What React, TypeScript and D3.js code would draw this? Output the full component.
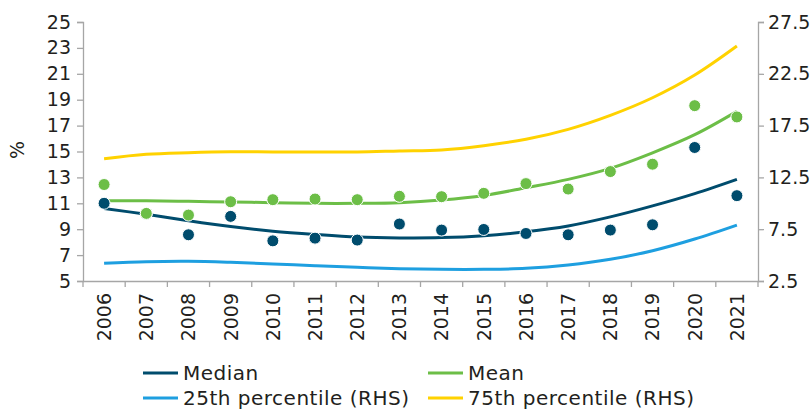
import React, { useEffect, useRef } from "react";
import * as d3 from "d3";

const years = [
  "2006", "2007", "2008", "2009", "2010", "2011", "2012", "2013",
  "2014", "2015", "2016", "2017", "2018", "2019", "2020", "2021",
];

// dots (LHS)
const medianPoints = [11.0, 10.2, 8.57, 9.99, 8.1, 8.31, 8.16, 9.4, 8.93, 8.98, 8.67, 8.57, 8.93, 9.34, 15.31, 11.59];
const meanPoints = [12.45, 10.22, 10.09, 11.12, 11.28, 11.33, 11.28, 11.54, 11.51, 11.77, 12.52, 12.1, 13.45, 14.02, 18.54, 17.67];

// trend lines (LHS)
const medianTrend = [10.6, 10.15, 9.65, 9.2, 8.85, 8.6, 8.4, 8.33, 8.35, 8.5, 8.8, 9.25, 9.95, 10.8, 11.75, 12.85];
const meanTrend = [11.2, 11.2, 11.15, 11.1, 11.05, 11.0, 11.0, 11.05, 11.25, 11.6, 12.2, 12.85, 13.7, 14.9, 16.3, 18.1];

// percentile lines (RHS)
const p25 = [4.21, 4.36, 4.4, 4.3, 4.14, 3.98, 3.82, 3.69, 3.63, 3.63, 3.72, 4.04, 4.59, 5.42, 6.55, 7.9];
const p75 = [14.3, 14.73, 14.89, 14.98, 14.96, 14.95, 14.95, 15.05, 15.15, 15.56, 16.18, 17.14, 18.49, 20.19, 22.38, 25.18];

const leftTicks = [5, 7, 9, 11, 13, 15, 17, 19, 21, 23, 25];
const rightTicks = [2.5, 7.5, 12.5, 17.5, 22.5, 27.5];

const NAVY = "#004c6d";
const GREEN = "#6cbe47";
const BLUE = "#1e9fe0";
const YELLOW = "#ffd200";
const AXIS = "#a6a6a6";
const TEXT = "#231f20";
const FONT = "DejaVu Sans";

const W = 811,
  H = 409;
const plot = { left: 83, right: 758, top: 22, bottom: 281 };

export default function App(): JSX.Element {
  const ref = useRef<SVGSVGElement>(null);

  useEffect(() => {
    if (!ref.current) return;
    const svg = d3.select(ref.current);
    svg.selectAll("*").remove();

    const x = d3.scaleBand().domain(years).range([plot.left, plot.right]).padding(0);
    const yL = d3.scaleLinear().domain([5, 25]).range([plot.bottom, plot.top]);
    const yR = d3.scaleLinear().domain([2.5, 27.5]).range([plot.bottom, plot.top]);
    const cx = (y: string) => (x(y) as number) + x.bandwidth() / 2;

    // left axis
    const gl = svg
      .append("g")
      .attr("transform", "translate(" + plot.left + ",0)")
      .call(d3.axisLeft(yL).tickValues(leftTicks).tickSize(6).tickPadding(6).tickFormat(d3.format("d")));
    // right axis
    const gr = svg
      .append("g")
      .attr("transform", "translate(" + plot.right + ",0)")
      .call(d3.axisRight(yR).tickValues(rightTicks).tickSize(6).tickPadding(4).tickFormat(d3.format(".1f")));
    // bottom axis (labels only, ticks on band edges below)
    const gb = svg
      .append("g")
      .attr("transform", "translate(0," + plot.bottom + ")")
      .call(d3.axisBottom(x).tickSize(0).tickPadding(0));
    gb.selectAll("text")
      .attr("transform", "rotate(-90)")
      .attr("text-anchor", "end")
      .attr("x", -12)
      .attr("y", 0)
      .attr("dy", "0.36em");

    const edges = years.map((d) => x(d) as number).concat([plot.right]);
    gb.selectAll(".edge")
      .data(edges)
      .enter()
      .append("line")
      .attr("class", "edge")
      .attr("x1", (d) => d)
      .attr("x2", (d) => d)
      .attr("y1", 0)
      .attr("y2", 6);

    [gl, gr, gb].forEach((g) => {
      g.selectAll("path").attr("stroke", AXIS).attr("stroke-width", 1.3);
      g.selectAll("line").attr("stroke", AXIS).attr("stroke-width", 1.3);
      g.selectAll("text").attr("fill", TEXT).attr("font-size", 19).attr("font-family", FONT);
    });

    svg
      .append("text")
      .attr("transform", "translate(24,150) rotate(-90)")
      .attr("text-anchor", "middle")
      .attr("font-size", 19)
      .attr("font-family", FONT)
      .attr("fill", TEXT)
      .text("%");

    const line = (scale: d3.ScaleLinear<number, number>) =>
      d3
        .line<number>()
        .x((_, i) => cx(years[i]))
        .y((d) => scale(d))
        .curve(d3.curveCatmullRom.alpha(0.5));

    const series: [number[], d3.ScaleLinear<number, number>, string][] = [
      [p75, yR, YELLOW],
      [p25, yR, BLUE],
      [meanTrend, yL, GREEN],
      [medianTrend, yL, NAVY],
    ];
    series.forEach(([data, scale, color]) => {
      svg
        .append("path")
        .datum(data)
        .attr("fill", "none")
        .attr("stroke", color)
        .attr("stroke-width", 3)
        .attr("d", line(scale));
    });

    const dots: [number[], string][] = [
      [medianPoints, NAVY],
      [meanPoints, GREEN],
    ];
    dots.forEach(([data, color]) => {
      svg
        .append("g")
        .selectAll("circle")
        .data(data)
        .enter()
        .append("circle")
        .attr("cx", (_, i) => cx(years[i]))
        .attr("cy", (d) => yL(d))
        .attr("r", 6)
        .attr("fill", color)
        .attr("stroke", "#fff")
        .attr("stroke-width", 1);
    });

    // legend
    const legend = [
      { name: "Median", color: NAVY, x: 143, y: 373 },
      { name: "Mean", color: GREEN, x: 428, y: 373 },
      { name: "25th percentile (RHS)", color: BLUE, x: 143, y: 398 },
      { name: "75th percentile (RHS)", color: YELLOW, x: 428, y: 398 },
    ];
    const lg = svg.append("g").selectAll("g").data(legend).enter().append("g");
    lg.append("line")
      .attr("x1", (d) => d.x)
      .attr("x2", (d) => d.x + 35)
      .attr("y1", (d) => d.y)
      .attr("y2", (d) => d.y)
      .attr("stroke", (d) => d.color)
      .attr("stroke-width", 3);
    lg.append("text")
      .attr("x", (d) => d.x + 40)
      .attr("y", (d) => d.y)
      .attr("dy", "0.36em")
      .attr("font-size", 20)
      .attr("letter-spacing", 0.5)
      .attr("font-family", FONT)
      .attr("fill", TEXT)
      .text((d) => d.name);
  }, []);

  return (
    <svg
      ref={ref}
      width={W}
      height={H}
      style={{ position: "absolute", left: 0, top: 0, background: "#fff" }}
    ></svg>
  );
}
